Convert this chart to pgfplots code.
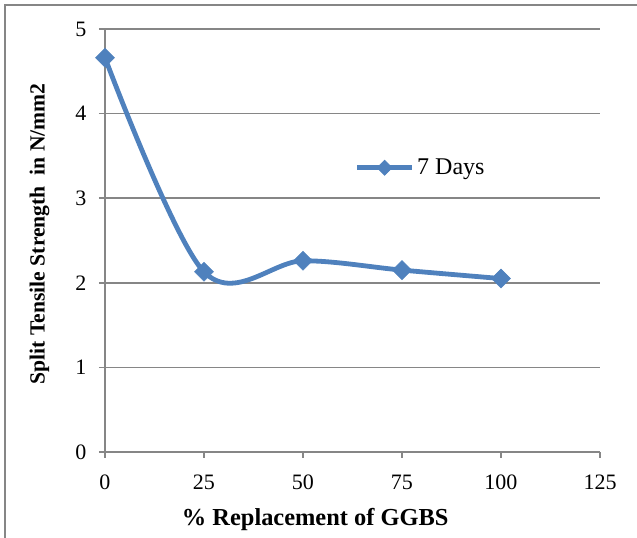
\documentclass[border=0pt]{standalone}
\usepackage{pgfplots}
\pgfplotsset{compat=1.18}
\usepackage{fontspec}
\setmainfont{Liberation Serif}
\definecolor{serblue}{HTML}{4F81BD}
\definecolor{axgray}{HTML}{868686}
\begin{document}
\begin{tikzpicture}[x=0.75pt,y=0.75pt]
\useasboundingbox (0,0) rectangle (637,538);
\draw[axgray, line width=1.1pt] (5,0) -- (5,533) -- (637,533);
\begin{axis}[
  at={(78.75pt,64.5pt)}, anchor=south west,
  scale only axis,
  width=371.25pt, height=317.25pt,
  xmin=0, xmax=125, ymin=0, ymax=5,
  xtick={0,25,50,75,100,125},
  ytick={0,1,2,3,4,5},
  axis x line=bottom, axis y line=left,
  axis line style={axgray, line width=1.1pt, -},
  ymajorgrids,
  grid style={axgray, line width=1.1pt},
  tick style={axgray, line width=1.1pt},
  tick align=outside,
  major tick length=4.5pt,
  /pgf/number format/assume math mode=true,
  tick label style={font=\fontsize{16.5}{19}\selectfont, text=black},
  xticklabel style={yshift=-9pt},
  yticklabel style={xshift=-6pt},
  xlabel={\% Replacement of GGBS},
  ylabel={Split Tensile Strength\ \ in N/mm2},
  xlabel style={font=\bfseries\fontsize{18.3}{21}\selectfont, yshift=-7pt, xshift=-28pt},
  ylabel style={font=\bfseries\fontsize{16.2}{19}\selectfont, yshift=12.5pt, xshift=5pt},
  clip=false,
  legend style={draw=none, fill=none, at={(axis cs:63.0,3.36)}, anchor=west,
    font=\fontsize{18}{21}\selectfont, inner sep=0pt, row sep=0pt},
  legend cell align=left,
  legend image code/.code={\draw[#1, mark repeat=2, mark phase=2, mark size=4pt] plot coordinates {(0pt,0pt) (20.6pt,0pt) (41.25pt,0pt)};},
]
\addplot[serblue, line width=3.6pt, smooth, tension=0.55,
  mark=square*, mark size=5pt, mark options={rotate=45, line width=0.5pt, fill=serblue}]
  coordinates {(0,4.66) (25,2.13) (50,2.26) (75,2.15) (100,2.05)};
\addlegendentry{7 Days}
\end{axis}
\end{tikzpicture}
\end{document}
